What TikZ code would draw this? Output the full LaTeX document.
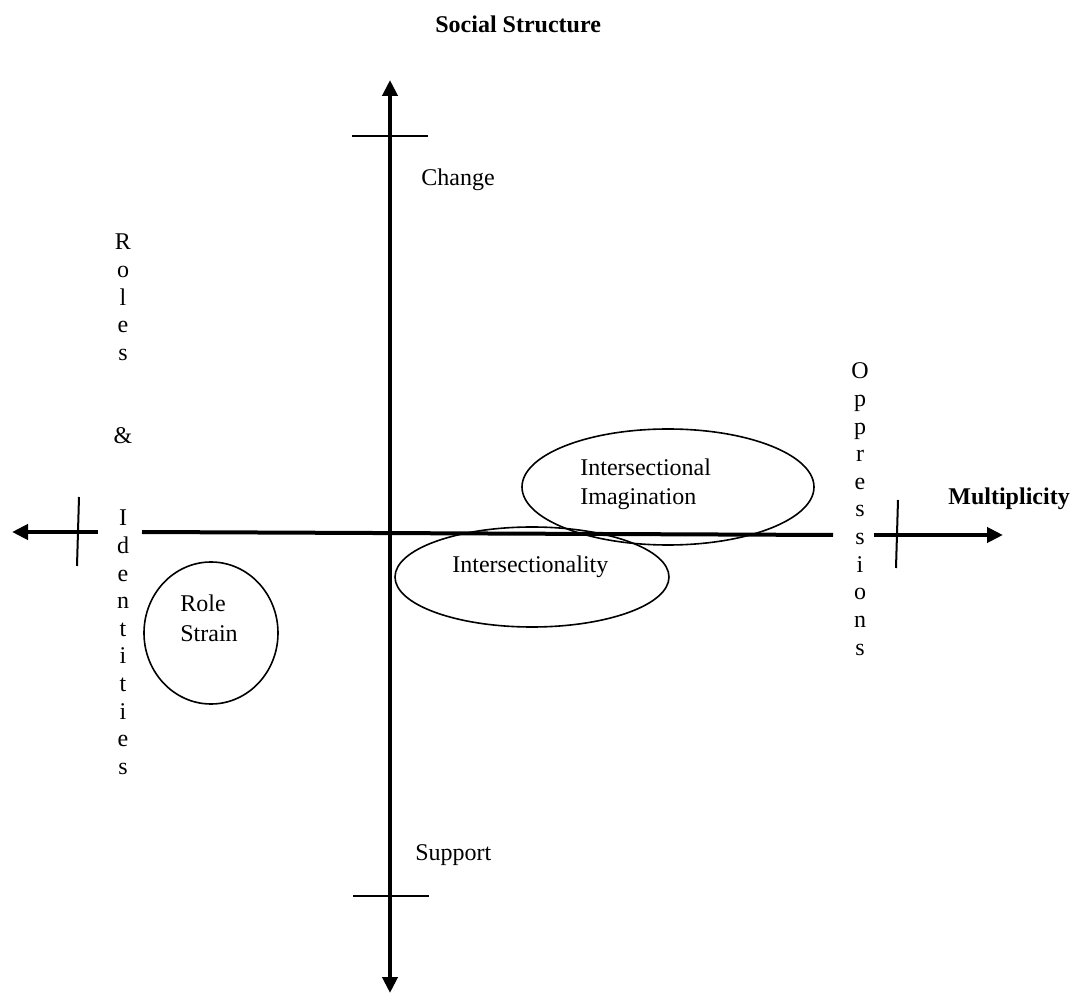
\documentclass[tikz,border=0pt]{standalone}
\usepackage{fontspec}
\setmainfont{Liberation Serif}
\usetikzlibrary{shapes.geometric,arrows.meta}
\newcommand{\mysize}{\fontsize{12}{13.8}\selectfont}

\begin{document}
\begin{tikzpicture}[x=0.5pt,y=-0.5pt,font=\mysize]
  \tikzstyle{axis}=[line width=2pt]
  \tikzstyle{tick}=[line width=1pt]
  \tikzstyle{tip}=[-{Triangle[length=8pt,width=7.5pt]}]
  \tikzstyle{tips}=[{Triangle[length=8pt,width=7.5pt]}-{Triangle[length=8pt,width=7.5pt]}]
  \tikzstyle{blob}=[ellipse,draw,line width=0.8pt,inner sep=0pt]
  \tikzstyle{word}=[inner sep=0pt,anchor=base west]
  \tikzstyle{letter}=[inner sep=0pt,anchor=base]
  \useasboundingbox (0,0) rectangle (1088,994);

  \coordinate (V_top) at (390,80);
  \coordinate (V_bot) at (390,993);
  \coordinate (H_l1) at (12,532);
  \coordinate (H_l2) at (98,532);
  \coordinate (H_m1) at (142,532);
  \coordinate (H_m2) at (833,535);
  \coordinate (H_r1) at (874,535);
  \coordinate (H_r2) at (1003,535);

  \draw[axis,tips] (V_bot) -- (V_top);
  \draw[axis,tip] (H_l2) -- (H_l1);
  \draw[axis] (H_m1) -- (H_m2);
  \draw[axis,tip] (H_r1) -- (H_r2);

  \coordinate (T_1a) at (352,136);
  \coordinate (T_1b) at (428,136);
  \coordinate (T_2a) at (353,896);
  \coordinate (T_2b) at (429,896);
  \coordinate (T_3a) at (79,497);
  \coordinate (T_3b) at (77,566);
  \coordinate (T_4a) at (898,500);
  \coordinate (T_4b) at (896,568);

  \draw[tick] (T_1a) -- (T_1b);
  \draw[tick] (T_2a) -- (T_2b);
  \draw[tick] (T_3a) -- (T_3b);
  \draw[tick] (T_4a) -- (T_4b);

  \node[blob,minimum width=146pt,minimum height=58pt] (imag) at (668,487) {};
  \node[blob,minimum width=137pt,minimum height=50pt] (inter) at (532,577) {};
  \node[blob,minimum width=67pt,minimum height=71pt] (strain) at (211,633) {};

  \node[word,font=\mysize\bfseries] (title) at (435,33) {Social Structure};
  \node[word,font=\mysize\bfseries] (multi) at (948,505) {Multiplicity};
  \node[word] (change) at (421,186) {Change};
  \node[word] (support) at (415,860) {Support};
  \node[word] (imag_1) at (580,476) {Intersectional};
  \node[word] (imag_2) at (580,505) {Imagination};
  \node[word] (inter_1) at (452,573) {Intersectionality};
  \node[word] (strain_1) at (180,611) {Role};
  \node[word] (strain_2) at (180,642) {Strain};

  \foreach \c/\i in {R/0,o/1,l/2,e/3,s/4,\&/7,I/10,d/11,e/12,n/13,t/14,i/15,t/16,i/17,e/18,s/19}
    \node[letter] (roles_\i) at (123,250+27.6*\i) {\c};
  \foreach \c/\i in {O/0,p/1,p/2,r/3,e/4,s/5,s/6,i/7,o/8,n/9,s/10}
    \node[letter] (opp_\i) at (860,379+27.6*\i) {\c};
\end{tikzpicture}
\end{document}
